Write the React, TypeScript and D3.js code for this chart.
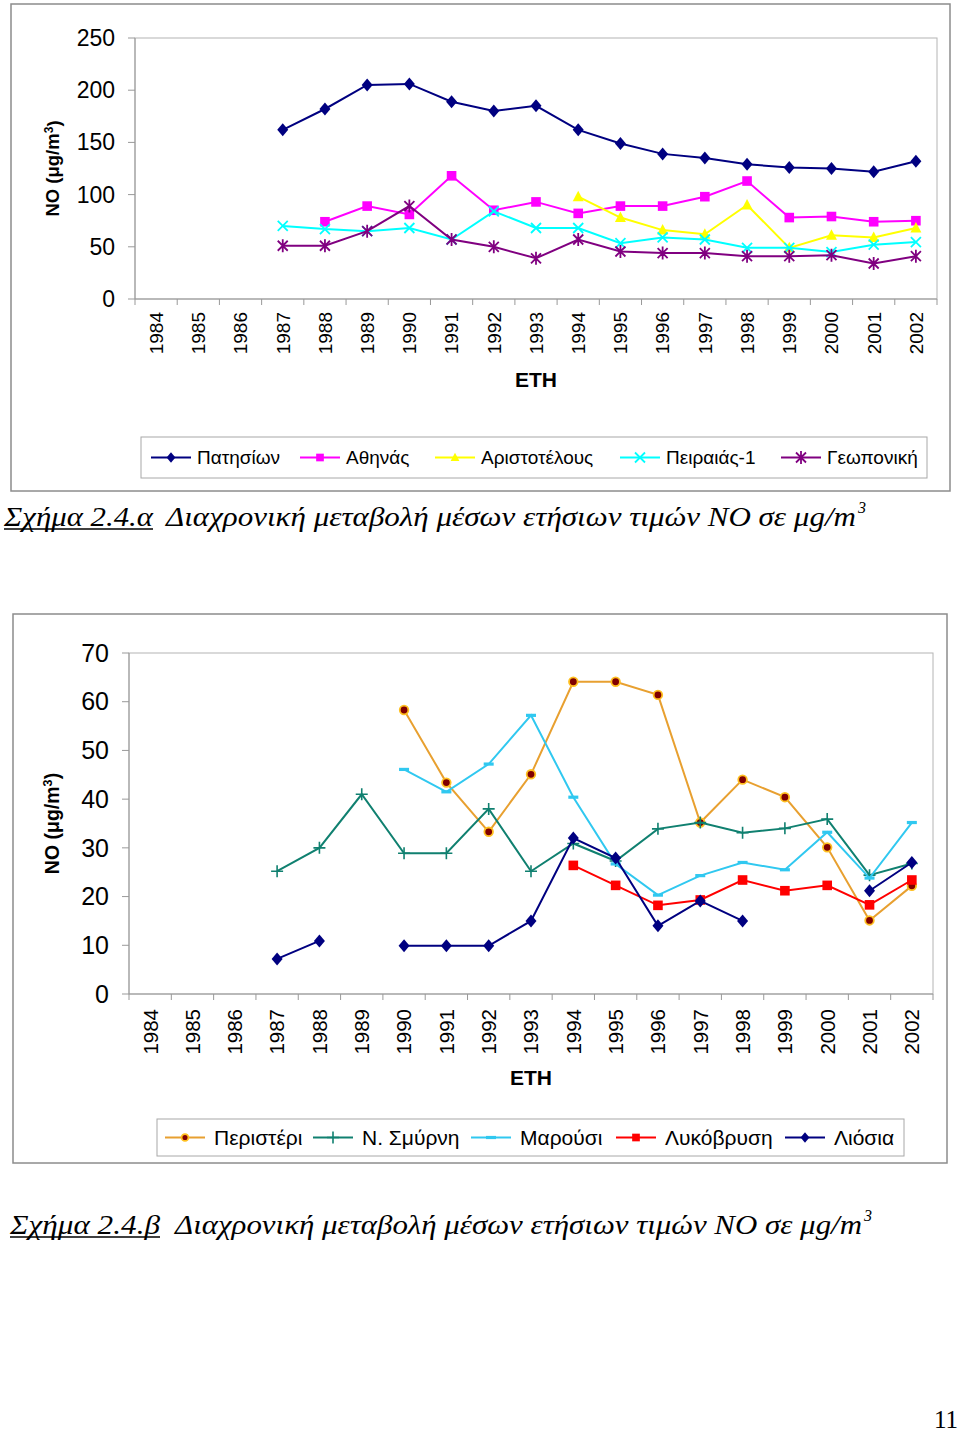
import React from 'react';
import * as d3 from 'd3';

// ---------- DATA ----------
const years = ['1984','1985','1986','1987','1988','1989','1990','1991','1992','1993','1994','1995','1996','1997','1998','1999','2000','2001','2002'];

// Chart α (NO, μg/m3)
const patision = [null,null,null,162,182,205,206,189,180,185,162,149,139,135,129,126,125,122,132];
const athinas = [null,null,null,null,74,89,81,118,85,93,82,89,89,98,113,78,79,74,75];
const aristotelous = [null,null,null,null,null,null,null,null,null,null,98,78,66,62,90,49,61,59,68];
const peiraias1 = [null,null,null,70,67,65,68,57,84,68,68,53.5,59,57,49,49,45,52,54.5];
const geoponiki = [null,null,null,51,51,65,89,57,50,39,57,45.5,44,44,41,41,42,34,41];
const ticksA = [0,50,100,150,200,250];

// Chart β (NO, μg/m3)
const peristeri = [null,null,null,null,null,null,58.3,43.4,33.3,45.1,64.1,64.1,61.4,35.2,44,40.4,30.1,15.1,22.2];
const nSmyrni = [null,null,null,25.2,30,41,28.9,28.9,38,25.2,30.9,27.3,33.9,35.2,33.1,34,35.9,24.4,26.8];
const marousi = [null,null,null,null,null,null,46.1,41.5,47.2,57.2,40.4,26.7,20.3,24.3,27,25.5,33.2,23.8,35.2];
const lykovrysi = [null,null,null,null,null,null,null,null,null,null,26.4,22.3,18.2,19.3,23.4,21.2,22.3,18.3,23.4];
const liosia = [null,null,null,7.2,10.9,null,9.9,9.9,9.9,15,32,27.9,14,19.1,15,null,null,21.2,27];
const ticksB = [0,10,20,30,40,50,60,70];

const namesA = ['Πατησίων','Αθηνάς','Αριστοτέλους','Πειραιάς-1','Γεωπονική'];
const namesB = ['Περιστέρι','Ν. Σμύρνη','Μαρούσι','Λυκόβρυση','Λιόσια'];
const xTitle = 'ΕΤΗ';
const captionA = ['Σχήμα 2.4.α', 'Διαχρονική μεταβολή μέσων ετήσιων τιμών ΝΟ σε μg/m', '3'];
const captionB = ['Σχήμα 2.4.β', 'Διαχρονική μεταβολή μέσων ετήσιων τιμών ΝΟ σε μg/m', '3'];

type Series = { name: string; values: (number | null)[]; color: string; marker: string; mfill?: string; mstroke?: string };

const seriesA: Series[] = [
  { name: namesA[0], values: patision, color: '#000080', marker: 'diamond' },
  { name: namesA[1], values: athinas, color: '#FF00FF', marker: 'square' },
  { name: namesA[2], values: aristotelous, color: '#FFFF00', marker: 'triangle' },
  { name: namesA[3], values: peiraias1, color: '#00FFFF', marker: 'x' },
  { name: namesA[4], values: geoponiki, color: '#800080', marker: 'star' },
];
const seriesB: Series[] = [
  { name: namesB[0], values: peristeri, color: '#E8A030', marker: 'circle', mfill: '#800000', mstroke: '#FFC020' },
  { name: namesB[1], values: nSmyrni, color: '#108070', marker: 'plus' },
  { name: namesB[2], values: marousi, color: '#30C8F0', marker: 'dash' },
  { name: namesB[3], values: lykovrysi, color: '#FF0000', marker: 'square' },
  { name: namesB[4], values: liosia, color: '#000080', marker: 'diamond' },
];

const FONT = 'Arial, "Liberation Sans", sans-serif';
const SERIF = '"Times New Roman", "Liberation Serif", serif';

function Marker({ type, x, y, color, fill, stroke, s = 1 }: any) {
  switch (type) {
    case 'diamond':
      return <path d={`M${x},${y - 6.5 * s}L${x + 5.5 * s},${y}L${x},${y + 6.5 * s}L${x - 5.5 * s},${y}Z`} fill={color} />;
    case 'square':
      return <rect x={x - 4.8 * s} y={y - 4.8 * s} width={9.6 * s} height={9.6 * s} fill={color} />;
    case 'triangle':
      return <path d={`M${x},${y - 6 * s}L${x + 5.5 * s},${y + 4.5 * s}L${x - 5.5 * s},${y + 4.5 * s}Z`} fill={color} />;
    case 'x':
      return <path d={`M${x - 5},${y - 5}L${x + 5},${y + 5}M${x - 5},${y + 5}L${x + 5},${y - 5}`} stroke={color} strokeWidth={1.8} />;
    case 'star':
      return <path d={`M${x - 5},${y - 5}L${x + 5},${y + 5}M${x - 5},${y + 5}L${x + 5},${y - 5}M${x},${y - 6.5}L${x},${y + 6.5}`} stroke={color} strokeWidth={1.8} />;
    case 'circle':
      return <circle cx={x} cy={y} r={4.3 * s} fill={fill} stroke={stroke} strokeWidth={1.8} />;
    case 'plus':
      return <path d={`M${x - 6},${y}L${x + 6},${y}M${x},${y - 6}L${x},${y + 6}`} stroke={color} strokeWidth={1.6} />;
    case 'dash':
      return <rect x={x - 5} y={y - 1.6} width={10} height={3.2} fill={color} />;
    default:
      return null;
  }
}

function Chart({ frame, plot, series, ticks, yMax, tickFont, yLabelFont, yLabelX, xLabelFont, xTitleY, legend, xTickLabelOffset }: any) {
  const x = d3.scaleBand().domain(years).range([plot.left, plot.right]).paddingInner(0).paddingOuter(0);
  const y = d3.scaleLinear().domain([0, yMax]).range([plot.bottom, plot.top]);
  const line = d3.line<any>()
    .defined((d: any) => d.v != null)
    .x((d: any) => (x(d.year) as number) + x.bandwidth() / 2)
    .y((d: any) => y(d.v));
  const boundaries = years.map((yr) => x(yr) as number).concat([plot.right]);
  return (
    <g>
      <rect x={frame.x} y={frame.y} width={frame.w} height={frame.h} fill="#fff" stroke="#8c8c8c" strokeWidth={1.5} />
      <rect x={plot.left} y={plot.top} width={plot.right - plot.left} height={plot.bottom - plot.top} fill="none" stroke="#b4b4b4" strokeWidth={1} />
      {/* y axis */}
      <line x1={plot.left} x2={plot.left} y1={plot.top} y2={plot.bottom} stroke="#999" strokeWidth={1} />
      {ticks.map((t: number) => (
        <g key={t}>
          <line x1={plot.left - 7} x2={plot.left} y1={y(t)} y2={y(t)} stroke="#999" />
          <text x={plot.left - 20} y={y(t)} dy="0.35em" textAnchor="end" fontFamily={FONT} fontSize={tickFont} fill="#000">{t}</text>
        </g>
      ))}
      {/* x axis */}
      <line x1={plot.left} x2={plot.right} y1={plot.bottom} y2={plot.bottom} stroke="#999" strokeWidth={1} />
      {boundaries.map((bx: number, i: number) => (
        <line key={i} x1={bx} x2={bx} y1={plot.bottom} y2={plot.bottom + 6} stroke="#999" />
      ))}
      {years.map((yr) => (
        <text key={yr} transform={`translate(${(x(yr) as number) + x.bandwidth() / 2},${plot.bottom + xTickLabelOffset}) rotate(-90)`} dy="0.36em" textAnchor="end" fontFamily={FONT} fontSize={xLabelFont} fill="#000">{yr}</text>
      ))}
      <text x={(plot.left + plot.right) / 2} y={xTitleY} dy="0.35em" textAnchor="middle" fontFamily={FONT} fontWeight="bold" fontSize={21} fill="#000">{xTitle}</text>
      {/* y title */}
      <text transform={`translate(${yLabelX},${(plot.top + plot.bottom) / 2}) rotate(-90)`} dy="0.35em" textAnchor="middle" fontFamily={FONT} fontWeight="bold" fontSize={yLabelFont} fill="#000">
        NO (μg/m<tspan fontSize={yLabelFont * 0.65} dy="-0.55em">3</tspan><tspan dy={yLabelFont * 0.36}>)</tspan>
      </text>
      {/* series */}
      {series.map((s: Series) => {
        const pts = years.map((yr, i) => ({ year: yr, v: s.values[i] }));
        return (
          <g key={s.name}>
            <path d={line(pts) || ''} fill="none" stroke={s.color} strokeWidth={2} />
            {pts.filter((p) => p.v != null).map((p) => (
              <Marker key={p.year} type={s.marker} x={(x(p.year) as number) + x.bandwidth() / 2} y={y(p.v as number)} color={s.color} fill={s.mfill} stroke={s.mstroke} />
            ))}
          </g>
        );
      })}
      {/* legend */}
      <rect x={legend.x} y={legend.y} width={legend.w} height={legend.h} fill="#fff" stroke="#a8a8a8" strokeWidth={1} />
      {series.map((s: Series, i: number) => {
        const lx = legend.items[i];
        const cy = legend.y + legend.h / 2;
        return (
          <g key={s.name}>
            <line x1={lx} x2={lx + 40} y1={cy} y2={cy} stroke={s.color} strokeWidth={2} />
            <Marker type={s.marker} x={lx + 20} y={cy} color={s.color} fill={s.mfill} stroke={s.mstroke} s={0.8} />
            <text x={lx + legend.gap} y={cy} dy="0.35em" fontFamily={FONT} fontSize={legend.font} fill="#000">{s.name}</text>
          </g>
        );
      })}
    </g>
  );
}

function Caption({ parts, x, y, underEnd, textStart, textEnd }: any) {
  return (
    <g fontFamily={SERIF} fontStyle="italic" fontSize={27} fill="#000">
      <text x={x} y={y} textLength={underEnd - x} lengthAdjust="spacingAndGlyphs">{parts[0]}</text>
      <line x1={x} x2={underEnd} y1={y + 3} y2={y + 3} stroke="#000" strokeWidth={1.3} />
      <text x={textStart} y={y} textLength={textEnd - textStart} lengthAdjust="spacingAndGlyphs">{parts[1]}</text>
      <text x={textEnd + 2} y={y - 13} fontSize={16}>{parts[2]}</text>
    </g>
  );
}

export default function App() {
  return (
    <svg width={960} height={1432} style={{ position: 'absolute', left: 0, top: 0, background: '#fff' }}>
      <rect x={0} y={0} width={960} height={1432} fill="#fff" />
      <Chart
        frame={{ x: 11, y: 4, w: 939, h: 487 }}
        plot={{ left: 135, right: 937, top: 38, bottom: 299 }}
        series={seriesA}
        ticks={ticksA}
        yMax={250}
        tickFont={23}
        yLabelFont={18.5}
        yLabelX={53}
        xLabelFont={19}
        xTickLabelOffset={13}
        xTitleY={380}
        legend={{ x: 141, y: 437, w: 786, h: 41, font: 19, gap: 46, items: [151, 300, 435, 620, 781] }}
      />
      <Chart
        frame={{ x: 13, y: 614, w: 934, h: 549 }}
        plot={{ left: 129, right: 933, top: 653, bottom: 994 }}
        series={seriesB}
        ticks={ticksB}
        yMax={70}
        tickFont={25}
        yLabelFont={19.5}
        yLabelX={52}
        xLabelFont={20.5}
        xTickLabelOffset={15}
        xTitleY={1078}
        legend={{ x: 157, y: 1119, w: 747, h: 37, font: 21, gap: 49, items: [165, 313, 471, 616, 785] }}
      />
      <Caption parts={captionA} x={4} y={526} underEnd={153} textStart={166} textEnd={856} />
      <Caption parts={captionB} x={10} y={1234} underEnd={160} textStart={175} textEnd={862} />
      <text x={934} y={1428} fontFamily={SERIF} fontSize={25} fill="#000">11</text>
    </svg>
  );
}
